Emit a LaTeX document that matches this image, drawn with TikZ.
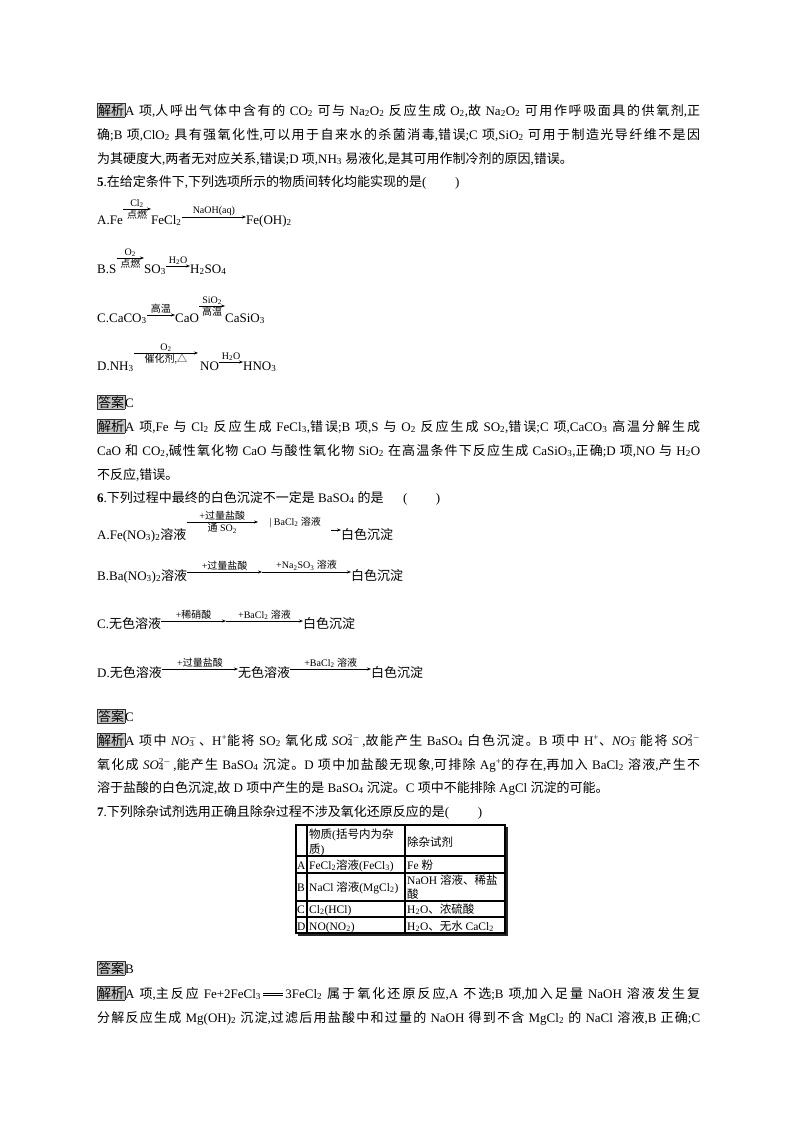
\documentclass[tikz,border=0pt]{standalone}
\usepackage{fontspec}
\setmainfont{Liberation Serif}
\newfontfamily\cjk{Noto Sans CJK SC}
\usetikzlibrary{arrows.meta}
\newXeTeXintercharclass\cjkc
\count255="3000 \loop\XeTeXcharclass\count255=\cjkc\advance\count255 by 1\ifnum\count255<"3040 \repeat
\count255="4E00 \loop\XeTeXcharclass\count255=\cjkc\advance\count255 by 1\ifnum\count255<"A000 \repeat
\XeTeXcharclass"25B3=\cjkc
\XeTeXinterchartokenstate=1
\XeTeXinterchartoks 0 \cjkc = {\cjk}
\XeTeXinterchartoks 4095 \cjkc = {\cjk}
\XeTeXinterchartoks \cjkc 0 = {\rmfamily}
\XeTeXinterchartoks \cjkc 4095 = {\rmfamily}
\XeTeXinterchartoks \cjkc \cjkc = {\hskip 0pt plus 2pt}
\newcommand\sbs[1]{\textsubscript{#1}}
\newcommand\ionx[2]{\rlap{\textsubscript{#1}}\textsuperscript{#2}}
\newcommand\lbl[1]{{\setlength\fboxsep{0.6pt}\fcolorbox{black!80}{black!22}{#1}}}
\newcommand\fs{\fontsize{13}{16}\selectfont}
\newcommand\fl{\fontsize{10}{11}\selectfont}
\newcommand\ft{\fontsize{11.5}{13}\selectfont}
\newcommand\full[1]{\makebox[603pt][s]{#1}}
\newcommand\dbleq{\,\rlap{\rule[2.2pt]{20pt}{0.4pt}}\rule[4.6pt]{20pt}{0.4pt}\,}
\begin{document}
\begin{tikzpicture}[x=1pt,y=-1pt,
  txt/.style={anchor=base west,inner sep=0pt,font=\fs},
  tt/.style={anchor=base west,inner sep=0pt,font=\ft},
  rx/.style={-{Stealth[length=4pt,width=3pt]},line width=0.6pt},
  la/.style={font=\fl,inner sep=1.2pt}]
\useasboundingbox[fill=white] (0,0) rectangle (800,1132);
% question 4 analysis
\node[txt] (l1) at (97,115) {\full{\lbl{解析}A 项,人呼出气体中含有的 CO\sbs{2} 可与 Na\sbs{2}O\sbs{2} 反应生成 O\sbs{2},故 Na\sbs{2}O\sbs{2} 可用作呼吸面具的供氧剂,正}};
\node[txt] (l2) at (97,139) {\full{确;B 项,ClO\sbs{2} 具有强氧化性,可以用于自来水的杀菌消毒,错误;C 项,SiO\sbs{2} 可用于制造光导纤维不是因}};
\node[txt] (l3) at (97,163) {为其硬度大,两者无对应关系,错误;D 项,NH\sbs{3} 易液化,是其可用作制冷剂的原因,错误。};
\node[txt] (q5) at (97,186) {\textbf{5}.在给定条件下,下列选项所示的物质间转化均能实现的是(\hspace{2.2em})};
% reactions 5
\node[txt] (a1) at (97,224) {A.Fe};
\node[txt] (a2) at (151,224) {FeCl\sbs{2}};
\node[txt] (a3) at (246,224) {Fe(OH)\sbs{2}};
\draw[rx] (a1.east |- 0,209) -- (a2.west |- 0,209) node[la,midway,above]{Cl\sbs{2}} node[la,midway,below]{点燃};
\draw[rx] (a2.east |- 0,217) -- (a3.west |- 0,217) node[la,midway,above]{NaOH(aq)};
\node[txt] (b1) at (97,273) {B.S};
\node[txt] (b2) at (144,273) {SO\sbs{3}};
\node[txt] (b3) at (190,273) {H\sbs{2}SO\sbs{4}};
\draw[rx] (b1.east |- 0,258) -- (b2.west |- 0,258) node[la,midway,above]{O\sbs{2}} node[la,midway,below]{点燃};
\draw[rx] (b2.east |- 0,266) -- (b3.west |- 0,266) node[la,midway,above]{H\sbs{2}O};
\node[txt] (c1) at (97,322) {C.CaCO\sbs{3}};
\node[txt] (c2) at (175,322) {CaO};
\node[txt] (c3) at (225,322) {CaSiO\sbs{3}};
\draw[rx] (c1.east |- 0,315) -- (c2.west |- 0,315) node[la,midway,above]{高温};
\draw[rx] (c2.east |- 0,306) -- (c3.west |- 0,306) node[la,midway,above]{SiO\sbs{2}} node[la,midway,below]{高温};
\node[txt] (d1) at (97,370) {D.NH\sbs{3}};
\node[txt] (d2) at (200,370) {NO};
\node[txt] (d3) at (243,370) {HNO\sbs{3}};
\draw[rx] (d1.east |- 0,353) -- (198,353) coordinate (d1e) node[la,midway,above]{O\sbs{2}} node[la,midway,below]{催化剂,△};
\draw[rx] (d2.east |- 0,362) -- (d3.west |- 0,362) node[la,midway,above]{H\sbs{2}O};
% answer 5
\node[txt] (ans5) at (97,407) {\lbl{答案}C};
\node[txt] (j51) at (97,431) {\full{\lbl{解析}A 项,Fe 与 Cl\sbs{2} 反应生成 FeCl\sbs{3},错误;B 项,S 与 O\sbs{2} 反应生成 SO\sbs{2},错误;C 项,CaCO\sbs{3} 高温分解生成}};
\node[txt] (j52) at (97,455) {\full{CaO 和 CO\sbs{2},碱性氧化物 CaO 与酸性氧化物 SiO\sbs{2} 在高温条件下反应生成 CaSiO\sbs{3},正确;D 项,NO 与 H\sbs{2}O}};
\node[txt] (j53) at (97,479) {不反应,错误。};
\node[txt] (q6) at (97,502) {\textbf{6}.下列过程中最终的白色沉淀不一定是 BaSO\sbs{4} 的是\hspace{1.5em}(\hspace{2.2em})};
% reactions 6
\node[txt] (e1) at (97,539) {A.Fe(NO\sbs{3})\sbs{2}溶液};
\node[txt] (e3) at (341,539) {白色沉淀};
\draw[rx] (e1.east |- 0,522) -- (258,522) node[la,midway,above]{+过量盐酸} node[la,midway,below]{通 SO\sbs{2}};
\node[la,anchor=west] (e2) at (268,522) {| BaCl\sbs{2} 溶液};
\draw[rx] (331,530) -- (e3.west |- 0,530);
\node[txt] (f1) at (97,580) {B.Ba(NO\sbs{3})\sbs{2}溶液};
\node[txt] (f3) at (351,580) {白色沉淀};
\coordinate (fm) at (262,572);
\draw[rx] (f1.east |- 0,572) -- (fm) node[la,midway,above]{+过量盐酸};
\draw[rx] (fm) -- (f3.west |- 0,572) node[la,midway,above]{+Na\sbs{2}SO\sbs{3} 溶液};
\node[txt] (g1) at (97,628) {C.无色溶液};
\node[txt] (g3) at (303,628) {白色沉淀};
\coordinate (gm) at (226,621);
\draw[rx] (g1.east |- 0,621) -- (gm) node[la,midway,above]{+稀硝酸};
\draw[rx] (gm) -- (g3.west |- 0,621) node[la,midway,above]{+BaCl\sbs{2} 溶液};
\node[txt] (h1) at (97,677) {D.无色溶液};
\node[txt] (h2) at (238,677) {无色溶液};
\node[txt] (h3) at (371,677) {白色沉淀};
\draw[rx] (h1.east |- 0,669) -- (h2.west |- 0,669) node[la,midway,above]{+过量盐酸};
\draw[rx] (h2.east |- 0,669) -- (h3.west |- 0,669) node[la,midway,above]{+BaCl\sbs{2} 溶液};
% answer 6
\node[txt] (ans6) at (97,721) {\lbl{答案}C};
\node[txt] (j61) at (97,745) {\full{\lbl{解析}A 项中 \textit{NO}\ionx{3}{$-$}\,、H\textsuperscript{+}能将 SO\sbs{2} 氧化成 \textit{SO}\ionx{4}{2$-$}\,,故能产生 BaSO\sbs{4} 白色沉淀。B 项中 H\textsuperscript{+}、\textit{NO}\ionx{3}{$-$}\,能将 \textit{SO}\ionx{3}{2$-$}}};
\node[txt] (j62) at (97,769) {\full{氧化成 \textit{SO}\ionx{4}{2$-$}\,,能产生 BaSO\sbs{4} 沉淀。D 项中加盐酸无现象,可排除 Ag\textsuperscript{+}的存在,再加入 BaCl\sbs{2} 溶液,产生不}};
\node[txt] (j63) at (97,792) {溶于盐酸的白色沉淀,故 D 项中产生的是 BaSO\sbs{4} 沉淀。C 项中不能排除 AgCl 沉淀的可能。};
\node[txt] (q7) at (97,816) {\textbf{7}.下列除杂试剂选用正确且除杂过程不涉及氧化还原反应的是(\hspace{2.2em})};
% table
\fill[black!85] (298,827) rectangle (508,936);
\fill[white] (296,825) rectangle (505,933);
\draw[line width=1.6pt] (296,825) rectangle (505,933);
\draw[line width=1.2pt] (307,825) -- (307,933) (405,825) -- (405,933)
  (296,856) -- (505,856) (296,873) -- (505,873) (296,901) -- (505,901) (296,917) -- (505,917);
\node[tt] (t0a) at (309,838) {物质(括号内为杂};
\node[tt] (t0b) at (309,853) {质)};
\node[tt] (t0c) at (407,846) {除杂试剂};
\node[tt] (tA) at (297,869) {A};
\node[tt] (tA1) at (309,869) {FeCl\sbs{2}溶液(FeCl\sbs{3})};
\node[tt] (tA2) at (407,869) {Fe 粉};
\node[tt] (tB) at (297,891) {B};
\node[tt] (tB1) at (309,891) {NaCl 溶液(MgCl\sbs{2})};
\node[tt] (tB2) at (407,884) {NaOH 溶液、稀盐};
\node[tt] (tB3) at (407,898) {酸};
\node[tt] (tC) at (297,913) {C};
\node[tt] (tC1) at (309,913) {Cl\sbs{2}(HCl)};
\node[tt] (tC2) at (407,913) {H\sbs{2}O、浓硫酸};
\node[tt] (tD) at (297,930) {D};
\node[tt] (tD1) at (309,930) {NO(NO\sbs{2})};
\node[tt] (tD2) at (407,930) {H\sbs{2}O、无水 CaCl\sbs{2}};
% answer 7
\node[txt] (ans7) at (97,973) {\lbl{答案}B};
\node[txt] (j71) at (97,998) {\full{\lbl{解析}A 项,主反应 Fe+2FeCl\sbs{3}\dbleq 3FeCl\sbs{2} 属于氧化还原反应,A 不选;B 项,加入足量 NaOH 溶液发生复}};
\node[txt] (j72) at (97,1022) {\full{分解反应生成 Mg(OH)\sbs{2} 沉淀,过滤后用盐酸中和过量的 NaOH 得到不含 MgCl\sbs{2} 的 NaCl 溶液,B 正确;C}};
\end{tikzpicture}
\end{document}
